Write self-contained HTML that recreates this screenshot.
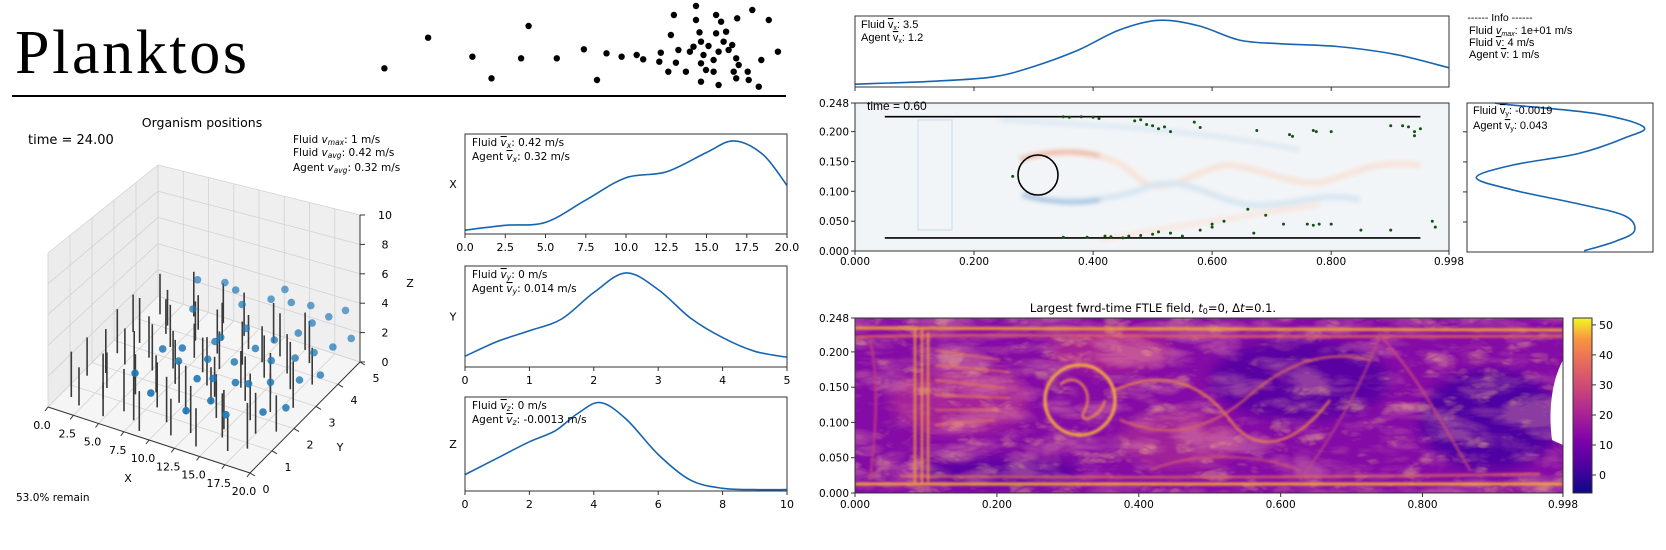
<!DOCTYPE html>
<html><head><meta charset="utf-8"><style>
body{margin:0;background:#fff;}
svg{display:block;font-family:"DejaVu Sans","Liberation Sans",sans-serif;}
</style></head><body>
<svg id="s" width="1666" height="550" viewBox="0 0 1666 550">
<defs>
<filter id="blur3" x="-10%" y="-10%" width="120%" height="120%"><feGaussianBlur stdDeviation="2.5"/></filter>
<filter id="blur2" x="-10%" y="-10%" width="120%" height="120%"><feGaussianBlur stdDeviation="1.2"/></filter>
<filter id="blur6" x="-20%" y="-20%" width="140%" height="140%"><feGaussianBlur stdDeviation="6"/></filter>
<filter id="tex" x="0" y="0" width="100%" height="100%"><feTurbulence type="turbulence" baseFrequency="0.012 0.035" numOctaves="4" seed="7"/><feColorMatrix type="matrix" values="0 0 0 0 0.93  0 0 0 0 0.42  0 0 0 0 0.35  0 0 0 2.6 -0.55"/></filter>
<filter id="tex2" x="0" y="0" width="100%" height="100%"><feTurbulence type="turbulence" baseFrequency="0.03 0.06" numOctaves="3" seed="2"/><feColorMatrix type="matrix" values="0 0 0 0 0.99  0 0 0 0 0.65  0 0 0 0 0.2  0 0 0 3 -1.1"/></filter>
<linearGradient id="plasma" x1="0" y1="1" x2="0" y2="0">
<stop offset="0" stop-color="#0d0887"/><stop offset="0.15" stop-color="#4c02a1"/><stop offset="0.3" stop-color="#7e03a8"/><stop offset="0.45" stop-color="#a92395"/><stop offset="0.6" stop-color="#cc4778"/><stop offset="0.75" stop-color="#e66c5c"/><stop offset="0.88" stop-color="#f89540"/><stop offset="1" stop-color="#f0f921"/>
</linearGradient>
<clipPath id="ftleclip"><rect x="855" y="318" width="708" height="175"/></clipPath>
<clipPath id="flowclip"><rect x="855" y="103" width="594" height="148"/></clipPath>
</defs>

<text x="15" y="73" font-family="Liberation Serif,serif" font-size="62" textLength="232">Planktos</text>
<line x1="12" y1="96" x2="786" y2="96" stroke="#000" stroke-width="2"/>
<g id="logo-dots"></g>

<text x="202" y="127" text-anchor="middle" font-size="12.5">Organism positions</text>
<text x="28" y="144" font-size="13">time = 24.00</text>
<g font-size="10.5">
<text x="293" y="143">Fluid <tspan font-style="italic">v</tspan><tspan font-size="7.5" font-style="italic" dy="2">max</tspan><tspan dy="-2">: 1 m/s</tspan></text>
<text x="293" y="156">Fluid <tspan font-style="italic">v</tspan><tspan font-size="7.5" font-style="italic" dy="2">avg</tspan><tspan dy="-2">: 0.42 m/s</tspan></text>
<text x="293" y="171">Agent <tspan font-style="italic">v</tspan><tspan font-size="7.5" font-style="italic" dy="2">avg</tspan><tspan dy="-2">: 0.32 m/s</tspan></text>
</g>
<text x="16" y="501" font-size="10.5">53.0% remain</text>
<g id="plot3d"></g>

<g id="kde"></g>
<g id="flow"></g>
</svg>
<script>
const NS='http://www.w3.org/2000/svg';
function mk(tag,attrs,parent){const e=document.createElementNS(NS,tag);for(const k in attrs)e.setAttribute(k,attrs[k]);parent.appendChild(e);return e;}
function spline(pts){let d='M'+pts[0][0].toFixed(1)+','+pts[0][1].toFixed(1);for(let i=0;i<pts.length-1;i++){const p0=pts[Math.max(0,i-1)],p1=pts[i],p2=pts[i+1],p3=pts[Math.min(pts.length-1,i+2)];const c1=[p1[0]+(p2[0]-p0[0])/6,p1[1]+(p2[1]-p0[1])/6],c2=[p2[0]-(p3[0]-p1[0])/6,p2[1]-(p3[1]-p1[1])/6];d+='C'+c1[0].toFixed(1)+','+c1[1].toFixed(1)+' '+c2[0].toFixed(1)+','+c2[1].toFixed(1)+' '+p2[0].toFixed(1)+','+p2[1].toFixed(1);}return d;}

/* ---------- data ---------- */
const logoDotsX=[765,852,940,978,1037,1052,1108,1162,1188,1207,1237,1267,1280,1312,1315,1335,1341,1385,1385,1392,1425,1435,1467,1497,1530,1548,1330,1345,1365,1373,1395,1395,1400,1405,1410,1420,1425,1430,1440,1445,1450,1457,1465,1470,1460,1488,1490,1395,1430,1465,1515,1510,1380,1350,1420];
const logoDotsY=[205,113,170,235,175,78,175,148,240,160,170,165,178,185,158,105,45,18,60,97,45,65,55,30,60,155,215,188,215,155,125,190,165,210,138,180,100,155,125,95,150,135,175,195,215,215,240,245,255,235,180,260,140,150,215];

const sticks=[[1,0.6,3],[2.2,0.4,2.5],[3.5,0.9,3],[4.8,0.3,2.2],[6,0.7,2.8],[7.4,0.5,3.2],[8.6,0.2,2.6],[10,0.8,3],[11.3,0.4,2.4],[12.6,0.7,3.1],[14,0.3,2.5],[15.3,0.9,2.9],[16.7,0.5,2.3],[18,0.8,3],
[0.6,1.5,2.6],[1.8,1.8,3],[3,1.3,2.4],[4.4,1.9,3.3],[5.6,1.4,2.7],[7,1.7,2.5],[8.2,1.2,3],[9.5,1.6,2.8],[10.8,1.3,3.2],[12,1.9,2.5],[13.4,1.5,2.9],[14.8,1.2,2.6],[16.1,1.8,3.1],[17.5,1.4,2.7],[18.9,1.7,2.4],
[1.2,2.6,3.1],[2.6,2.3,2.5],[3.9,2.8,2.9],[5.1,2.4,3.2],[6.5,2.7,2.6],[7.8,2.2,3],[9,2.9,2.4],[10.3,2.5,3.3],[11.7,2.2,2.7],[13,2.8,2.5],[14.3,2.4,3],[15.7,2.9,2.8],[17,2.3,2.6],[18.4,2.7,3.1],
[0.8,3.5,2.7],[2.1,3.2,3.2],[3.4,3.8,2.5],[4.7,3.4,3],[6.1,3.9,2.8],[7.3,3.3,2.4],[8.7,3.7,3.1],[10,3.2,2.6],[11.4,3.6,3],[12.7,3.9,2.5],[14,3.4,2.9],[15.4,3.8,2.7],[16.8,3.3,3.2],[18.1,3.7,2.5],
[1.5,4.4,3],[2.9,4.1,2.6],[4.2,4.7,3.3],[5.5,4.3,2.5],[6.9,4.8,2.9],[8.1,4.2,2.7],[9.4,4.6,3.1],[10.7,4.2,2.4],[12.1,4.7,2.8],[13.6,4.3,3],[15,4.8,2.6],[16.3,4.4,2.9]];
const agents=[[6,1.2,1.8],[7,2,2.5],[8.5,2.2,2.6],[9,1.8,2.4],[10,3,2.2],[11,2.8,3],[12,3.5,2.8],[11.5,1.5,2.2],[13,2.5,2.2],[13.5,1.2,1.6],[14,3,2.6],[15,3.4,2.8],[15.5,2,2],[16,2.8,2.5],[16.5,3.8,3],[17,4.2,3.2],[17.5,3.2,2.4],[18,4.5,3.4],[18.5,3.6,2.4],[19,4.8,3.6],[19.5,4,2.4],[20,4.6,2.2],[10.5,4,3.4],[12.5,4.4,3.6],[14.5,4.4,3.8],[16,4.6,3.6],[13,4.8,3.8],[9,4.4,3.5],[7.5,4.6,3.4],[5,4.5,3.2],[15,1.2,1],[17.8,1.6,1.2],[16.8,2.4,1.8],[12,2,1.6],[10.8,2.3,2.2],[8,1,1.2],[18.8,2.8,1.8],[14.2,2,1.8],[20,3.2,1.8],[19.2,2,1.2],[6.5,3.6,2.8],[11.5,1,0.8]];
const xTicks3d=['0.0','2.5','5.0','7.5','10.0','12.5','15.0','17.5','20.0'];
const yTicks3d=['0','1','2','3','4','5'];
const zTicks3d=['0','2','4','6','8','10'];

const kdeXgrid=[0,2.5,5,7.5,10,12.5,15,16.7,18.5,20];
const kdeXvals=[0.04,0.09,0.12,0.35,0.58,0.64,0.84,0.96,0.82,0.5];
const kdeYgrid=[0,0.5,1,1.5,2,2.5,3,3.5,4,4.5,5];
const kdeYvals=[0.11,0.26,0.37,0.49,0.76,0.96,0.79,0.5,0.3,0.16,0.1];
const kdeZgrid=[0,1,2,2.8,3.5,4.2,5,6,7,8,9,10];
const kdeZvals=[0.18,0.36,0.54,0.66,0.85,0.97,0.79,0.4,0.12,0.03,0.015,0.015];
const kdeXticks=['0.0','2.5','5.0','7.5','10.0','12.5','15.0','17.5','20.0'];
const kdeYticks=['0','1','2','3','4','5'];
const kdeZticks=['0','2','4','6','8','10'];

const vxGrid=[0,0.13,0.23,0.297,0.375,0.443,0.51,0.578,0.646,0.713,0.81,0.907,0.998];
const vxVals=[0.04,0.08,0.14,0.28,0.52,0.80,0.94,0.86,0.66,0.61,0.57,0.46,0.27];
const vyGrid=[0.248,0.245,0.23,0.208,0.19,0.164,0.145,0.124,0.103,0.080,0.06,0.035,0.018,0.002];
const vyVals=[0.15,0.23,0.7,0.95,0.85,0.6,0.25,0.05,0.25,0.6,0.85,0.9,0.8,0.63];
const flowXticks=['0.000','0.200','0.400','0.600','0.800','0.998'];
const flowXtickVals=[0,0.2,0.4,0.6,0.8,0.998];
const flowYticks=['0.000','0.050','0.100','0.150','0.200','0.248'];
const flowYtickVals=[0,0.05,0.1,0.15,0.2,0.248];
const agentsFlowX=[0.35,0.36,0.38,0.4,0.41,0.47,0.48,0.49,0.5,0.51,0.52,0.53,0.57,0.58,0.675,0.73,0.735,0.77,0.775,0.8,0.9,0.92,0.93,0.94,0.95,0.94,
0.35,0.39,0.42,0.43,0.45,0.46,0.48,0.5,0.51,0.53,0.55,0.58,0.6,0.6,0.62,0.66,0.67,0.69,0.72,0.76,0.77,0.78,0.8,0.85,0.9,0.97,0.975,0.265];
const agentsFlowY=[0.225,0.224,0.225,0.224,0.222,0.218,0.22,0.212,0.21,0.205,0.208,0.2,0.216,0.207,0.202,0.195,0.192,0.202,0.2,0.2,0.21,0.21,0.208,0.2,0.205,0.193,
0.023,0.023,0.025,0.024,0.022,0.025,0.026,0.028,0.032,0.03,0.025,0.035,0.04,0.045,0.05,0.07,0.03,0.06,0.045,0.045,0.043,0.045,0.045,0.035,0.035,0.05,0.04,0.125];
const cbTicks=['0','10','20','30','40','50'];
const cbTickVals=[0,10,20,30,40,50];

/* ---------- logo ---------- */
const logo=document.getElementById('logo-dots');
for(let i=0;i<logoDotsX.length;i++){const c=mk('circle',{cx:(logoDotsX[i]/1.99).toFixed(1),cy:(logoDotsY[i]/3).toFixed(1),r:3.2,fill:'#000'},logo);

}

/* ---------- 3D plot ---------- */
const g3=document.getElementById('plot3d');
function P(x,y,z){const zs=154-y*4.6+x*y*0.16;return [48+x/20*202+y/5*110, 407+x/20*66-y/5*111-z/10*zs];}
function poly(pts,fill,parent,name){const e=mk('polygon',{points:pts.map(p=>p[0].toFixed(1)+','+p[1].toFixed(1)).join(' '),fill:fill,stroke:'none'},parent);return e;}
function ln(a,b,stroke,w,parent,name){const e=mk('line',{x1:a[0].toFixed(1),y1:a[1].toFixed(1),x2:b[0].toFixed(1),y2:b[1].toFixed(1),stroke:stroke,'stroke-width':w},parent);return e;}
poly([P(0,0,0),P(0,5,0),P(0,5,10),P(0,0,10)],'#ececec',g3,'left-pane');
poly([P(0,5,0),P(20,5,0),P(20,5,10),P(0,5,10)],'#efefef',g3,'back-pane');
poly([P(0,0,0),P(20,0,0),P(20,5,0),P(0,5,0)],'#f5f5f5',g3,'floor-pane');
const gc='#d2d2d2';
for(let z=0;z<=10;z+=2){ln(P(0,0,z),P(0,5,z),gc,0.8,g3,'grid-line');ln(P(0,5,z),P(20,5,z),gc,0.8,g3,'grid-line');}
for(let y=0;y<=5;y++){ln(P(0,y,0),P(0,y,10),gc,0.8,g3,'grid-line');ln(P(0,y,0),P(20,y,0),gc,0.8,g3,'grid-line');}
for(let x=0;x<=20;x+=2.5){ln(P(x,5,0),P(x,5,10),gc,0.8,g3,'grid-line');ln(P(x,0,0),P(x,5,0),gc,0.8,g3,'grid-line');}
ln(P(0,0,0),P(20,0,0),'#333',1,g3,'x-axis-line');
ln(P(20,0,0),P(20,5,0),'#333',1,g3,'y-axis-line');
ln(P(20,5,0),P(20,5,10),'#333',1,g3,'z-axis-line');
xTicks3d.forEach((t,i)=>{const v=i*2.5,a=P(v,0,0);ln(a,[a[0]-3,a[1]+4],'#333',1,g3,'x-tick');const e=mk('text',{x:(a[0]-6).toFixed(1),y:(a[1]+22).toFixed(1),'text-anchor':'middle','font-size':11},g3);e.textContent=t;});
yTicks3d.forEach((t,i)=>{const a=P(20,i,0);ln(a,[a[0]+5,a[1]+3],'#333',1,g3,'y-tick');const e=mk('text',{x:(a[0]+16).toFixed(1),y:(a[1]+20).toFixed(1),'text-anchor':'middle','font-size':11},g3);e.textContent=t;});
zTicks3d.forEach((t,i)=>{const a=P(20,5,i*2);ln(a,[a[0]+5,a[1]],'#333',1,g3,'z-tick');const e=mk('text',{x:(a[0]+25).toFixed(1),y:(a[1]+4).toFixed(1),'text-anchor':'middle','font-size':11},g3);e.textContent=t;});
[['X',128,482],['Y',340,451],['Z',410,287]].forEach(a=>{const e=mk('text',{x:a[1],y:a[2],'text-anchor':'middle','font-size':11},g3);e.textContent=a[0];});
sticks.slice().sort((a,b)=>b[1]-a[1]).forEach(s=>{const e=ln(P(s[0],s[1],0),P(s[0],s[1],s[2]),'#3a3a3a',1.6,g3,'structure-stick');});
agents.slice().sort((a,b)=>b[1]-a[1]).forEach(a=>{const p=P(a[0],a[1],a[2]);const c=mk('circle',{cx:p[0].toFixed(1),cy:p[1].toFixed(1),r:3.8,fill:'#1f77b4','fill-opacity':(1-a[1]*0.07).toFixed(2)},g3);

});

/* ---------- KDE panels ---------- */
const gk=document.getElementById('kde');
function panel(parent,x0,y0,w,h,name){const r=mk('rect',{x:x0,y:y0,width:w,height:h,fill:'none',stroke:'#333','stroke-width':1},parent);}
function kdePanel(y0,h,dmax,grid,vals,ticks,label,l1,l2,name){
 const x0=465,w=322,g=mk('g',{},gk);
 const sx=v=>x0+v/dmax*w, sy=v=>y0+h-v*h*0.97;
 const p=mk('path',{d:spline(grid.map((v,i)=>[sx(v),sy(vals[i])])),fill:'none',stroke:'#1765b0','stroke-width':1.6},g);
 
 panel(g,x0,y0,w,h,'kde-frame');
 ticks.forEach(t=>{const v=parseFloat(t),x=sx(v);ln([x,y0+h],[x,y0+h+4],'#333',1,g,'kde-tick');const e=mk('text',{x:x.toFixed(1),y:y0+h+17,'text-anchor':'middle','font-size':11},g);e.textContent=t;});
 const lab=mk('text',{x:453,y:y0+h/2+4,'text-anchor':'middle','font-size':11},g);lab.textContent=label;
 const a=mk('text',{x:472,y:y0+12,'font-size':10.5},g);a.innerHTML=l1;
 const b=mk('text',{x:472,y:y0+26,'font-size':10.5},g);b.innerHTML=l2;
}
kdePanel(134,100,20,kdeXgrid,kdeXvals,kdeXticks,'X','Fluid <tspan text-decoration="overline" font-style="italic">v</tspan><tspan font-size="7.5" font-style="italic" dy="2">x</tspan><tspan dy="-2">: 0.42 m/s</tspan>','Agent <tspan text-decoration="overline" font-style="italic">v</tspan><tspan font-size="7.5" font-style="italic" dy="2">x</tspan><tspan dy="-2">: 0.32 m/s</tspan>','kde-x-panel');
kdePanel(266,101,5,kdeYgrid,kdeYvals,kdeYticks,'Y','Fluid <tspan text-decoration="overline" font-style="italic">v</tspan><tspan font-size="7.5" font-style="italic" dy="2">y</tspan><tspan dy="-2">: 0 m/s</tspan>','Agent <tspan text-decoration="overline" font-style="italic">v</tspan><tspan font-size="7.5" font-style="italic" dy="2">y</tspan><tspan dy="-2">: 0.014 m/s</tspan>','kde-y-panel');
kdePanel(397,94,10,kdeZgrid,kdeZvals,kdeZticks,'Z','Fluid <tspan text-decoration="overline" font-style="italic">v</tspan><tspan font-size="7.5" font-style="italic" dy="2">z</tspan><tspan dy="-2">: 0 m/s</tspan>','Agent <tspan text-decoration="overline" font-style="italic">v</tspan><tspan font-size="7.5" font-style="italic" dy="2">z</tspan><tspan dy="-2">: -0.0013 m/s</tspan>','kde-z-panel');

/* ---------- flow panels ---------- */
const gf=document.getElementById('flow');
const FX0=855,FW=594;
const fx=v=>FX0+v/0.998*FW;
function txt(parent,x,y,html,size,anchor,name,fam){const e=mk('text',{x:x,y:y,'font-size':size,'text-anchor':anchor||'start'},parent);if(fam)e.setAttribute('font-family',fam);e.innerHTML=html;return e;}
const NAR='"Liberation Sans Narrow","Liberation Sans",sans-serif';
{const y0=16,h=71,g=mk('g',{},gf);
 const p=mk('path',{d:spline(vxGrid.map((v,i)=>[fx(v),y0+h-vxVals[i]*h])),fill:'none',stroke:'#1765b0','stroke-width':1.6},g);
 panel(g,FX0,y0,FW,h,'vx-frame');
 flowXtickVals.slice(0,5).forEach(v=>ln([fx(v),y0+h],[fx(v),y0+h+4],'#333',1,g,'vx-tick'));
 txt(g,861,28,'Fluid <tspan text-decoration="overline">v</tspan><tspan font-size="7" dy="2">x</tspan><tspan dy="-2">: 3.5</tspan>',11,'start','vx-fluid-label',NAR);
 txt(g,861,41,'Agent <tspan text-decoration="overline">v</tspan><tspan font-size="7" dy="2">x</tspan><tspan dy="-2">: 1.2</tspan>',11,'start','vx-agent-label',NAR);}
{const g=mk('g',{},gf);
 txt(g,1500,21,'------ Info ------',10.5,'middle','info-header',NAR);
 txt(g,1469,34,'Fluid <tspan font-style="italic">v</tspan><tspan font-size="7" font-style="italic" dy="2">max</tspan><tspan dy="-2">: 1e+01 m/s</tspan>',11,'start','info-vmax',NAR);
 txt(g,1469,46,'Fluid <tspan text-decoration="overline">v</tspan>: 4 m/s',11,'start','info-vmean',NAR);
 txt(g,1469,58,'Agent <tspan text-decoration="overline">v</tspan>: 1 m/s',11,'start','info-agent-vmean',NAR);}
function flowAxes(g,y0,h){
 const fy=v=>y0+h-v/0.248*h;
 flowYtickVals.forEach((v,i)=>{ln([FX0-4,fy(v)],[FX0,fy(v)],'#333',1,g,'y-tick');txt(g,FX0-6,fy(v)+4,flowYticks[i],10.5,'end','y-tick-label');});
 flowXtickVals.forEach((v,i)=>{ln([fx(v),y0+h],[fx(v),y0+h+4],'#333',1,g,'x-tick');});
 return fy;}
{const y0=103,h=148,g=mk('g',{},gf);
 const bg=mk('rect',{x:FX0,y:y0,width:FW,height:h,fill:'#eef3f7'},g);
 const f=mk('g',{'clip-path':'url(#flowclip)',filter:'url(#blur3)'},g);
 f.innerHTML='<rect x="860" y="108" width="590" height="140" fill="#f5f7f9" opacity="0.6"/>'+
 '<path d="M1020,158 C1060,148 1110,150 1135,175 C1160,205 1200,165 1230,165 C1270,170 1300,190 1330,180 C1360,170 1380,160 1420,165" stroke="#f7e2d8" stroke-width="6" fill="none"/>'+
 '<path d="M1020,160 C1050,150 1080,150 1100,156" stroke="#eaa890" stroke-width="3.5" fill="none"/>'+
 '<path d="M1022,196 C1060,205 1110,200 1140,190 C1180,170 1210,200 1250,205 C1290,208 1320,190 1360,200" stroke="#d6e5f1" stroke-width="6" fill="none"/>'+
 '<path d="M1022,194 C1050,204 1080,204 1100,200" stroke="#8fb6da" stroke-width="3.5" fill="none"/>'+
 '<path d="M1000,120 C1100,125 1200,130 1300,150" stroke="#dde8f2" stroke-width="5" fill="none"/>'+
 '<path d="M1100,240 C1180,225 1250,215 1320,205" stroke="#f8e6de" stroke-width="5" fill="none"/>';
 const fy=flowAxes(g,y0,h);
 const rl=mk('rect',{x:918,y:120,width:34,height:110,fill:'none',stroke:'#d5e3ef','stroke-width':1.5},g);
 ln([fx(0.05),fy(0.225)],[fx(0.95),fy(0.225)],'#000',1.6,g,'top-wall');
 ln([fx(0.05),fy(0.022)],[fx(0.95),fy(0.022)],'#000',1.6,g,'bottom-wall');
 const c=mk('ellipse',{cx:1038,cy:175,rx:20,ry:20,fill:'none',stroke:'#000','stroke-width':1.6},g);
 panel(g,FX0,y0,FW,h,'vorticity-frame');
 agentsFlowX.forEach((v,i)=>{const d=mk('circle',{cx:fx(v).toFixed(1),cy:fy(agentsFlowY[i]).toFixed(1),r:1.5,fill:'#145214'},g);
 
 });
 flowXtickVals.forEach((v,i)=>txt(g,fx(v),y0+h+14,flowXticks[i],10.5,'middle','x-tick-label'));
 txt(g,867,110,'time = 0.60',12,'start','flow-time-label',NAR);}
{const x0=1467,w=186,y0=103,h=149,g=mk('g',{},gf);
 const fy=v=>y0+h-v/0.248*h;
 const p=mk('path',{d:spline(vyGrid.map((v,i)=>[x0+vyVals[i]*w,fy(v)])),fill:'none',stroke:'#1765b0','stroke-width':1.6},g);
 panel(g,x0,y0,w,h,'vy-frame');
 flowYtickVals.slice(1,5).forEach(v=>ln([x0-4,fy(v)],[x0,fy(v)],'#333',1,g,'vy-tick'));
 txt(g,1473,114,'Fluid <tspan text-decoration="overline">v</tspan><tspan font-size="7" dy="2">y</tspan><tspan dy="-2">: -0.0019</tspan>',11,'start','vy-fluid-label',NAR);
 txt(g,1473,129,'Agent <tspan text-decoration="overline">v</tspan><tspan font-size="7" dy="2">y</tspan><tspan dy="-2">: 0.043</tspan>',11,'start','vy-agent-label',NAR);}
{const y0=318,h=175,W=708,g=mk('g',{},gf);
 const fxl=v=>FX0+v/0.998*W;
 txt(g,1153,312,'Largest fwrd-time FTLE field, <tspan font-style="italic">t</tspan><tspan font-size="8" dy="2">0</tspan><tspan dy="-2">=0, Δ</tspan><tspan font-style="italic">t</tspan>=0.1.',11.5,'middle','ftle-title');
 const bg=mk('rect',{x:FX0,y:y0,width:W,height:h,fill:'#850ba6'},g);
 const f=mk('g',{'clip-path':'url(#ftleclip)'},g);
 f.innerHTML='<g filter="url(#blur6)"><ellipse cx="1300" cy="380" rx="90" ry="40" fill="#5a03a3"/><ellipse cx="1490" cy="420" rx="70" ry="50" fill="#4f02a2"/><ellipse cx="1000" cy="472" rx="80" ry="14" fill="#5a03a3"/><ellipse cx="960" cy="400" rx="70" ry="35" fill="#a4209a"/><ellipse cx="1180" cy="440" rx="60" ry="30" fill="#a0209a"/><ellipse cx="1110" cy="350" rx="60" ry="22" fill="#a82496"/></g>'+
 '<rect x="855" y="318" width="708" height="175" filter="url(#tex)" opacity="0.35"/>'+
 '<rect x="855" y="318" width="708" height="175" filter="url(#tex2)" opacity="0.35"/>'+
 '<g filter="url(#blur2)" fill="none">'+
 '<path d="M855,328 L1563,330" stroke="#f5a13a" stroke-width="3"/><path d="M855,337 C1000,333 1200,338 1563,336" stroke="#e0645e" stroke-width="2.5"/>'+
 '<path d="M855,484 L1563,484" stroke="#f7a83a" stroke-width="3"/><path d="M900,476 C1100,478 1300,478 1540,474" stroke="#e36c5b" stroke-width="2"/>'+
 '<path d="M915,330 L915,485 M922,330 L922,485 M928,332 L928,482" stroke="#f0983f" stroke-width="2.2"/>'+
 '<path d="M935,350 L1000,360 M935,365 L1010,372 M935,380 L1005,388 M935,395 L1010,398 M935,410 L1000,410 M935,425 L995,420" stroke="#ea7c55" stroke-width="1.4"/>'+
 '<ellipse cx="1080" cy="400" rx="35" ry="35" stroke="#fbb43a" stroke-width="3"/>'+
 '<path d="M1060,385 C1075,370 1095,390 1085,410 C1075,425 1100,420 1105,400" stroke="#f59a3f" stroke-width="2"/>'+
 '<path d="M1115,390 C1160,370 1200,380 1230,420 C1260,460 1300,440 1330,400" stroke="#f08a48" stroke-width="2"/>'+
 '<path d="M1120,420 C1170,440 1210,430 1250,395 C1290,360 1330,350 1370,360" stroke="#e2705a" stroke-width="1.8"/>'+
 '<path d="M1380,335 C1420,380 1440,420 1470,470" stroke="#c84c78" stroke-width="2"/><path d="M1380,335 C1360,390 1330,440 1300,480" stroke="#c04f7c" stroke-width="1.6"/>'+
 '<path d="M1150,470 C1200,450 1260,455 1300,470" stroke="#d65f6c" stroke-width="1.6"/>'+
 '<path d="M870,340 C880,380 875,440 870,480" stroke="#c2407f" stroke-width="2"/>'+
 '</g>';
 const wh=mk('path',{d:'M1563,360 C1552,380 1548,410 1552,440 L1563,445 Z',fill:'#fff'},g);
 panel(g,FX0,y0,W,h,'ftle-frame');
 const fy=v=>y0+h-v/0.248*h;
 flowYtickVals.forEach((v,i)=>{ln([FX0-4,fy(v)],[FX0,fy(v)],'#333',1,g,'y-tick');txt(g,FX0-6,fy(v)+4,flowYticks[i],10.5,'end','y-tick-label');});
 flowXtickVals.forEach((v,i)=>{ln([fxl(v),y0+h],[fxl(v),y0+h+4],'#333',1,g,'x-tick');txt(g,fxl(v),y0+h+15,flowXticks[i],10.5,'middle','x-tick-label');});
 const cb=mk('rect',{x:1573,y:318,width:19,height:175,fill:'url(#plasma)',stroke:'#333','stroke-width':1},g);
 const cy=v=>493-(v+6)/58.3*175;
 cbTickVals.forEach((v,i)=>{ln([1592,cy(v)],[1596,cy(v)],'#333',1,g,'colorbar-tick');txt(g,1599,cy(v)+4,cbTicks[i],11,'start','colorbar-tick-label');});}
</script>
</body></html>
